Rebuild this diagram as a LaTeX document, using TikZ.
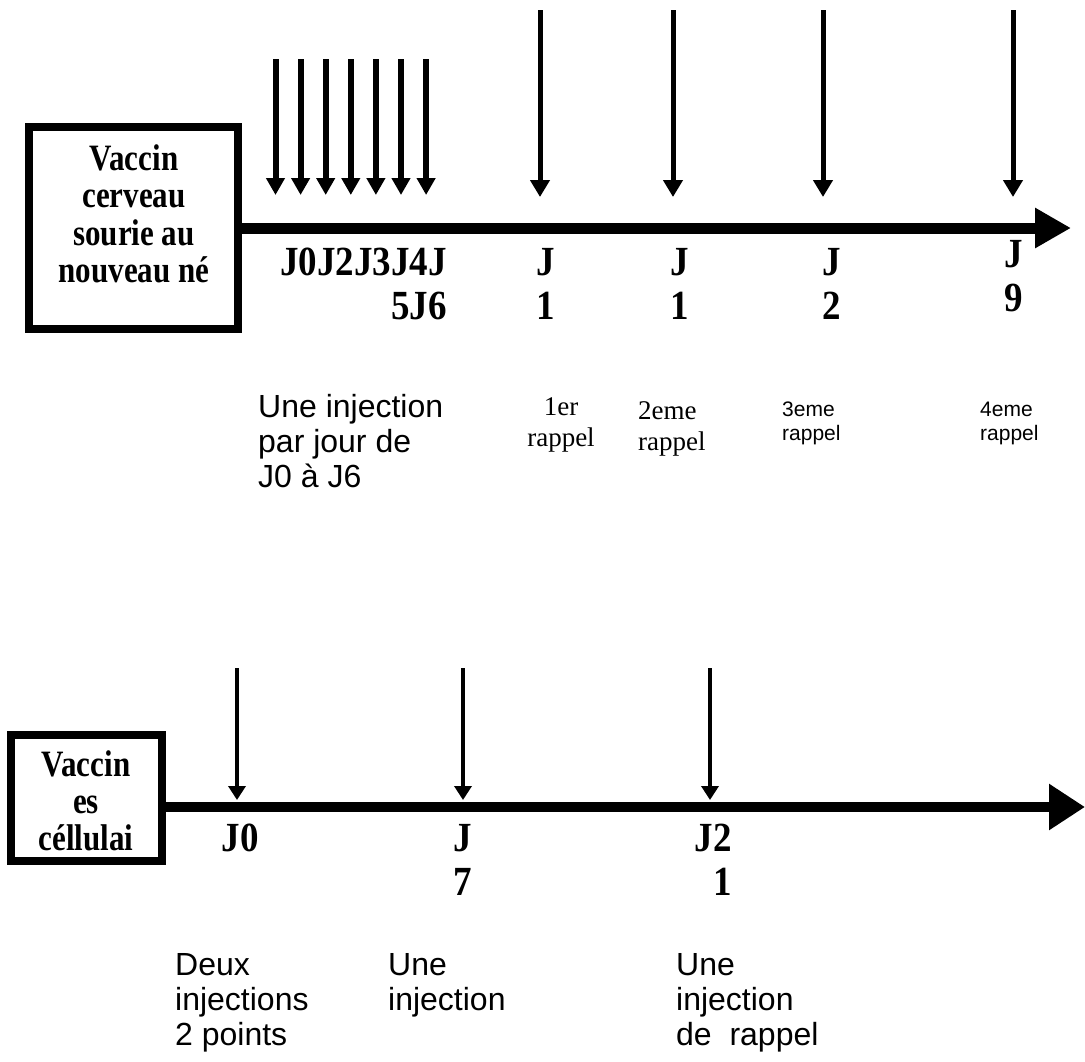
\documentclass[tikz,border=0pt]{standalone}
\usepackage{fontspec}
\setmainfont{Liberation Serif}
\newfontfamily\arialf{Liberation Sans}
\usepackage{graphicx}
\usetikzlibrary{arrows.meta}
\newcommand{\stretchtab}[3]{\scalebox{1}[#1]{\begin{tabular}{@{}#2@{}}#3\end{tabular}}}
\tikzset{
  boxst/.style={draw, line width=8pt, inner sep=0pt},
  boxtxt/.style={inner sep=0pt, font=\fontsize{31}{31}\selectfont\bfseries},
  axisst/.style={line width=11pt, -{Triangle[length=36pt,width=38pt]}},
  smallarr/.style={line width=6pt, -{Triangle[length=17pt,width=18pt]}},
  bigarr/.style={line width=5pt, -{Triangle[length=17pt,width=19pt]}},
  lowarr/.style={line width=4.5pt, -{Triangle[length=14pt,width=17pt]}},
  jlab/.style={inner sep=0pt, font=\fontsize{37}{39.5}\selectfont\bfseries},
  sanslab/.style={inner sep=0pt, align=left, anchor=north west, font=\arialf\fontsize{32}{35}\selectfont},
  smallsans/.style={inner sep=0pt, align=left, anchor=north west, font=\arialf\fontsize{21}{24}\selectfont},
  seriflab/.style={inner sep=0pt, font=\fontsize{27}{31}\selectfont}
}
\begin{document}
\begin{tikzpicture}[x=1pt,y=-1pt]
\useasboundingbox (0,0) rectangle (1085,1061);
\fill[white] (0,0) rectangle (1085,1061);

% ---------- top timeline ----------
\node[boxst, minimum width=209pt, minimum height=202pt] (box1) at (133.5,228) {};
\node[boxtxt] (box1txt) at (134,219) {\stretchtab{1.2}{c}{Vaccin\\cerveau\\sourie au\\nouveau né}};
\coordinate (ax1end) at (1071,228);
\draw[axisst] (box1.east) -- (ax1end);

\foreach \i/\x in {1/275.5,2/300.6,3/325.7,4/350.8,5/375.9,6/401,7/426.1} {
  \coordinate (st\i) at (\x,59);
  \coordinate (sb\i) at (\x,195);
  \draw[smallarr] (st\i) -- (sb\i);
}
\foreach \i/\x in {1/540,2/673,3/823,4/1013} {
  \coordinate (bt\i) at (\x,10);
  \coordinate (bb\i) at (\x,197);
  \draw[bigarr] (bt\i) -- (bb\i);
}

\node[jlab, anchor=north east] (lj06) at (447,244) {\stretchtab{1.12}{r}{J0J2J3J4J\\5J6}};
\node[jlab, anchor=north] (lj1a) at (546,244) {\stretchtab{1.12}{c}{J\\1}};
\node[jlab, anchor=north] (lj1b) at (680,244) {\stretchtab{1.12}{c}{J\\1}};
\node[jlab, anchor=north] (lj2) at (832,244) {\stretchtab{1.12}{c}{J\\2}};
\node[jlab, anchor=north] (lj9) at (1014,236) {\stretchtab{1.12}{c}{J\\9}};

\node[sanslab] (t1) at (258,394) {Une injection\\par jour de\\J0 à J6};
\node[seriflab, align=center, anchor=north] (r1) at (561,397) {1er\\rappel};
\node[seriflab, align=left, anchor=north west] (r2) at (638,401) {2eme\\rappel};
\node[smallsans] (r3) at (782,402) {3eme\\rappel};
\node[smallsans] (r4) at (980,402) {4eme\\rappel};

% ---------- bottom timeline ----------
\node[boxst, minimum width=151pt, minimum height=126pt] (box2) at (86,798) {};
\node[boxtxt] (box2txt) at (86,806) {\stretchtab{1.2}{c}{Vaccin\\es\\céllulai}};
\coordinate (ax2end) at (1085,807);
\draw[line width=10pt, -{Triangle[length=36pt,width=44pt]}] (box2.east |- ax2end) -- (ax2end);

\foreach \i/\x in {1/237,2/463,3/710} {
  \coordinate (lt\i) at (\x,668);
  \coordinate (lb\i) at (\x,800);
  \draw[lowarr] (lt\i) -- (lb\i);
}

\node[jlab, anchor=north] (lj0) at (240,820) {\stretchtab{1.12}{c}{J0}};
\node[jlab, anchor=north] (lj7) at (463,820) {\stretchtab{1.12}{c}{J\\7}};
\node[jlab, anchor=north east] (lj21) at (732,820) {\stretchtab{1.12}{r}{J2\\1}};

\node[sanslab] (b1) at (175,953) {Deux\\injections\\2 points};
\node[sanslab] (b2) at (388,953) {Une\\injection};
\node[sanslab] (b3) at (676,953) {Une\\injection\\de\ \ rappel};
\end{tikzpicture}
\end{document}
